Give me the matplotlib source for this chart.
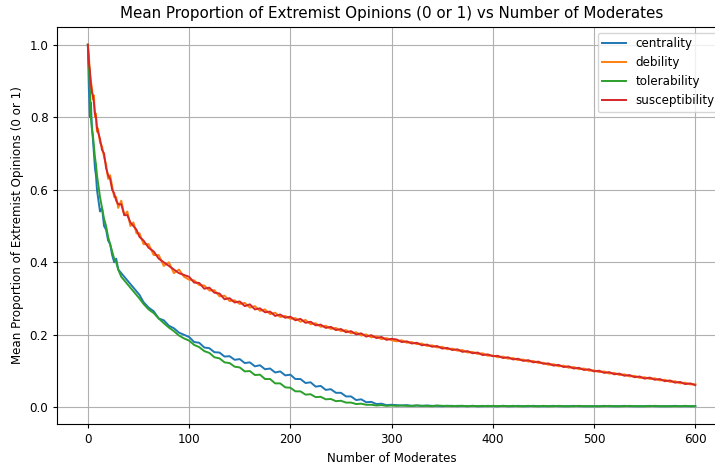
import numpy as np
import matplotlib
matplotlib.use('Agg')
import matplotlib.pyplot as plt

# number of moderates (dense at the start, then every 5)
x_early = [0, 1, 2, 3, 4, 5, 6, 7, 8, 9, 10, 12, 14, 16, 18, 20, 22, 24, 26, 28, 30,
           33, 36, 39, 42, 45, 48, 51, 55, 60, 65, 70, 75, 80, 85, 90, 95]
moderates = x_early + list(range(100, 601, 5))

centrality = [1.00, 0.88, 0.80, 0.84, 0.77, 0.74, 0.70, 0.66, 0.64, 0.60, 0.58, 0.54, 0.55, 0.50, 0.49, 0.46,
              0.45, 0.42, 0.40, 0.41, 0.38, 0.37, 0.36, 0.35, 0.34, 0.33, 0.32, 0.31, 0.29, 0.275, 0.265, 0.245,
              0.24, 0.225, 0.218, 0.206, 0.20,
              0.194, 0.180, 0.178, 0.165, 0.163, 0.152, 0.151, 0.140, 0.141, 0.131, 0.133, 0.122, 0.124, 0.113,
              0.116, 0.105, 0.107, 0.096, 0.099, 0.088, 0.090, 0.078, 0.078, 0.067, 0.069, 0.057, 0.059, 0.048,
              0.050, 0.040, 0.040, 0.030, 0.030, 0.020, 0.022, 0.014, 0.015, 0.009, 0.010, 0.006, 0.007,
              0.006, 0.005, 0.006, 0.004, 0.005, 0.004, 0.005, 0.004, 0.004, 0.003, 0.004, 0.004, 0.003, 0.004,
              0.003, 0.004, 0.003, 0.003, 0.004, 0.003,
              0.003, 0.004, 0.003, 0.003, 0.004, 0.003, 0.003, 0.004, 0.003, 0.003, 0.003, 0.004, 0.003, 0.003,
              0.003, 0.004, 0.003, 0.003, 0.003, 0.003,
              0.003, 0.004, 0.003, 0.003, 0.003, 0.004, 0.003, 0.003, 0.003, 0.003, 0.004, 0.003, 0.003, 0.003,
              0.003, 0.004, 0.003, 0.003, 0.003, 0.003]

debility = [1.00, 0.97, 0.92, 0.90, 0.88, 0.85, 0.86, 0.80, 0.81, 0.76, 0.77, 0.73, 0.72, 0.69, 0.67, 0.63,
            0.64, 0.61, 0.58, 0.58, 0.55, 0.57, 0.53, 0.54, 0.50, 0.51, 0.48, 0.48, 0.45, 0.45, 0.42, 0.42,
            0.39, 0.40, 0.37, 0.38, 0.36,
            0.352, 0.350, 0.337, 0.336, 0.322, 0.323, 0.306, 0.308, 0.293, 0.295, 0.285, 0.288, 0.275, 0.279,
            0.266, 0.270, 0.257, 0.261, 0.249, 0.252, 0.244, 0.246, 0.236, 0.241, 0.229, 0.232, 0.222, 0.225,
            0.216, 0.219, 0.210, 0.213, 0.204, 0.207, 0.198, 0.201, 0.193, 0.196, 0.188, 0.191, 0.185,
            0.182, 0.185, 0.178, 0.180, 0.174, 0.176, 0.169, 0.171, 0.165, 0.167, 0.160, 0.162, 0.156, 0.158,
            0.151, 0.153, 0.147, 0.149, 0.142, 0.143,
            0.138, 0.140, 0.134, 0.136, 0.130, 0.132, 0.126, 0.128, 0.122, 0.123, 0.117, 0.119, 0.113, 0.115,
            0.109, 0.111, 0.105, 0.107, 0.101, 0.102,
            0.097, 0.099, 0.093, 0.095, 0.089, 0.091, 0.085, 0.087, 0.081, 0.083, 0.078, 0.080, 0.074, 0.076,
            0.070, 0.072, 0.066, 0.068, 0.063, 0.064]

tolerability = [1.00, 0.94, 0.88, 0.80, 0.77, 0.75, 0.72, 0.69, 0.67, 0.64, 0.62, 0.58, 0.55, 0.52, 0.50, 0.47,
                0.45, 0.43, 0.41, 0.40, 0.38, 0.36, 0.35, 0.34, 0.33, 0.32, 0.31, 0.30, 0.285, 0.27, 0.26, 0.245,
                0.232, 0.22, 0.21, 0.198, 0.19,
                0.184, 0.172, 0.166, 0.155, 0.150, 0.138, 0.135, 0.124, 0.122, 0.112, 0.110, 0.099, 0.100, 0.089,
                0.090, 0.078, 0.078, 0.066, 0.066, 0.055, 0.054, 0.044, 0.044, 0.035, 0.036, 0.028, 0.029, 0.022,
                0.023, 0.017, 0.018, 0.013, 0.013, 0.009, 0.010, 0.007, 0.007, 0.005, 0.006, 0.004, 0.005,
                0.004, 0.005, 0.004, 0.004, 0.005, 0.004, 0.004, 0.003, 0.005, 0.004, 0.004, 0.003, 0.004, 0.004,
                0.003, 0.004, 0.003, 0.004, 0.003, 0.004,
                0.003, 0.004, 0.003, 0.004, 0.003, 0.003, 0.004, 0.003, 0.003, 0.004, 0.003, 0.003, 0.004, 0.003,
                0.003, 0.003, 0.004, 0.003, 0.003, 0.003,
                0.003, 0.003, 0.004, 0.003, 0.003, 0.003, 0.004, 0.003, 0.003, 0.003, 0.003, 0.004, 0.003, 0.003,
                0.003, 0.003, 0.003, 0.004, 0.003, 0.003]

susceptibility = [1.00, 0.95, 0.93, 0.89, 0.87, 0.86, 0.84, 0.81, 0.80, 0.77, 0.76, 0.74, 0.71, 0.70, 0.66, 0.64,
                  0.63, 0.60, 0.59, 0.57, 0.56, 0.56, 0.53, 0.53, 0.51, 0.50, 0.49, 0.47, 0.46, 0.44, 0.43, 0.41,
                  0.40, 0.39, 0.38, 0.37, 0.365,
                  0.360, 0.344, 0.343, 0.327, 0.330, 0.316, 0.314, 0.298, 0.301, 0.289, 0.292, 0.279, 0.284, 0.270,
                  0.273, 0.262, 0.264, 0.252, 0.256, 0.247, 0.250, 0.240, 0.244, 0.233, 0.236, 0.226, 0.228, 0.219,
                  0.222, 0.213, 0.216, 0.207, 0.210, 0.201, 0.204, 0.195, 0.199, 0.191, 0.194, 0.186, 0.189,
                  0.187, 0.180, 0.182, 0.176, 0.178, 0.171, 0.173, 0.167, 0.169, 0.162, 0.164, 0.158, 0.160, 0.153,
                  0.155, 0.149, 0.151, 0.144, 0.146, 0.141,
                  0.142, 0.136, 0.138, 0.132, 0.134, 0.128, 0.130, 0.124, 0.126, 0.120, 0.121, 0.115, 0.117, 0.111,
                  0.113, 0.107, 0.109, 0.103, 0.105, 0.099,
                  0.101, 0.095, 0.097, 0.091, 0.093, 0.087, 0.089, 0.083, 0.085, 0.079, 0.082, 0.076, 0.078, 0.072,
                  0.074, 0.068, 0.070, 0.064, 0.066, 0.061]

series = [('centrality', centrality), ('debility', debility),
          ('tolerability', tolerability), ('susceptibility', susceptibility)]

# reference looks like a default figure rendered a bit smaller
plt.rcParams['font.size'] = 8.6
plt.rcParams['xtick.major.size'] = 3.0
plt.rcParams['ytick.major.size'] = 3.0

fig = plt.figure(figsize=(7.15, 4.68), dpi=100)
ax = fig.add_axes([0.0804, 0.0934, 0.9345, 0.8496])

for name, vals in series:
    ax.plot(moderates, vals, label=name, lw=1.4)

ax.set_title('Mean Proportion of Extremist Opinions (0 or 1) vs Number of Moderates', fontsize=10.9)
ax.set_xlabel('Number of Moderates')
ax.set_ylabel('Mean Proportion of Extremist Opinions (0 or 1)')
ax.legend(loc='upper right')
ax.grid(True)

fig.savefig('out.png', dpi=100)
